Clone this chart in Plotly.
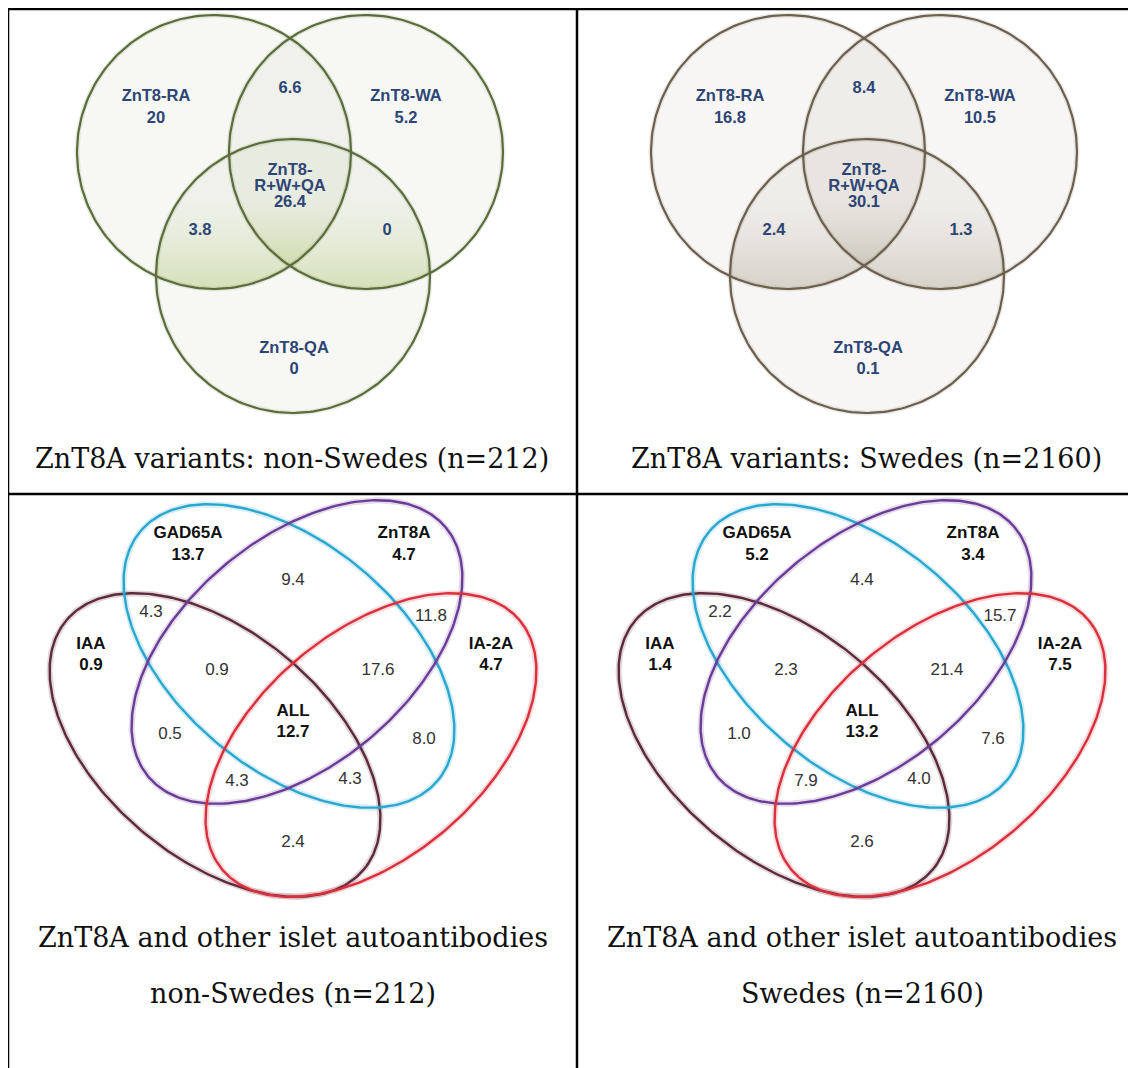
import numpy as np
import plotly.graph_objects as go

W, H = 1136, 1068
PAGE_MARGIN = 8  # default body margin of the html page

# ---------------- data ----------------
variant_sets = ["ZnT8-RA", "ZnT8-WA", "ZnT8-QA"]
variant_regions = ["RA", "RA+WA", "WA", "RA+WA+QA", "RA+QA", "WA+QA", "QA"]
variants_nonswedes = [20, 6.6, 5.2, 26.4, 3.8, 0, 0]
variants_swedes = [16.8, 8.4, 10.5, 30.1, 2.4, 1.3, 0.1]

islet_sets = ["IAA", "GAD65A", "ZnT8A", "IA-2A"]
islet_regions = ["IAA", "GAD65A", "ZnT8A", "IA-2A",
                 "IAA+GAD65A", "GAD65A+ZnT8A", "ZnT8A+IA-2A", "IAA+IA-2A",
                 "IAA+ZnT8A", "GAD65A+IA-2A",
                 "IAA+GAD65A+ZnT8A", "GAD65A+ZnT8A+IA-2A",
                 "IAA+ZnT8A+IA-2A", "IAA+GAD65A+IA-2A", "ALL"]
islet_nonswedes = [0.9, 13.7, 4.7, 4.7, 4.3, 9.4, 11.8, 2.4, 0.5, 8.0, 0.9, 17.6, 4.3, 4.3, 12.7]
islet_swedes = [1.4, 5.2, 3.4, 7.5, 2.2, 4.4, 15.7, 2.6, 1.0, 7.6, 2.3, 21.4, 7.9, 4.0, 13.2]

captions_top = ["ZnT8A variants: non-Swedes (n=212)", "ZnT8A variants: Swedes (n=2160)"]
captions_bottom_1 = ["ZnT8A and other islet autoantibodies", "ZnT8A and other islet autoantibodies"]
captions_bottom_2 = ["non-Swedes (n=212)", "Swedes (n=2160)"]

# ---------------- layout / style ----------------
TOP_CX = [290, 864]
BOT_CX = [293, 862]
R_CIRC = 137
circle_geom = {"RA": (-76, 152), "WA": (76, 152), "QA": (3, 276)}
top_stroke = ["#5b6c3a", "#6c5f4e"]
top_fill = ["rgba(170,182,130,0.09)", "rgba(165,155,135,0.09)"]
lens_dark = ["rgba(185,205,130,0.42)", "rgba(165,155,135,0.30)"]
lens_clear = ["rgba(210,222,175,0.0)", "rgba(200,192,178,0.0)"]
TOP_TXT = "#2d4575"

variant_pos = {  # dx, y of value ; name lines
    "RA": (-134, 119, ["ZnT8-RA"], [97]),
    "WA": (116, 119, ["ZnT8-WA"], [97]),
    "QA": (4, 370, ["ZnT8-QA"], [349]),
    "RA+WA": (0, 89, [], []),
    "RA+WA+QA": (0, 203, ["ZnT8-", "R+W+QA"], [171, 187]),
    "RA+QA": (-90, 231, [], []),
    "WA+QA": (97, 231, [], []),
}

ELL_A, ELL_B = 194, 113
ellipse_geom = {  # dx, cy, angle(deg), color
    "IAA": (-78, 745, 40, "#5c2a3a"),
    "GAD65A": (-4, 656, 40, "#2aa7cf"),
    "ZnT8A": (4, 652, -40, "#6a3c96"),
    "IA-2A": (78, 745, -40, "#d8303c"),
}
islet_pos = {
    "IAA": (-202, 666, 645), "GAD65A": (-105, 556, 534),
    "ZnT8A": (111, 556, 534), "IA-2A": (198, 666, 645),
    "IAA+GAD65A": (-142, 613, None), "GAD65A+ZnT8A": (0, 581, None),
    "ZnT8A+IA-2A": (138, 617, None), "IAA+IA-2A": (0, 843, None),
    "IAA+ZnT8A": (-123, 735, None), "GAD65A+IA-2A": (131, 740, None),
    "IAA+GAD65A+ZnT8A": (-76, 671, None), "GAD65A+ZnT8A+IA-2A": (85, 671, None),
    "IAA+ZnT8A+IA-2A": (-56, 782, None), "IAA+GAD65A+IA-2A": (57, 780, None),
    "ALL": (0, 733, 712),
}
CAPTION_FONT = dict(family="DejaVu Serif", size=27, color="#111111")

fig = go.Figure()


def circle_pts(cx, cy, r, n=240):
    t = np.linspace(0, 2 * np.pi, n)
    return cx + r * np.cos(t), cy + r * np.sin(t)


def lens_pts(c1, c2, r, n=120):
    (x1, y1), (x2, y2) = c1, c2
    d = np.hypot(x2 - x1, y2 - y1)
    al = np.arccos(d / (2 * r))
    th12 = np.arctan2(y2 - y1, x2 - x1)
    th21 = np.arctan2(y1 - y2, x1 - x2)
    t1 = np.linspace(th12 - al, th12 + al, n)
    t2 = np.linspace(th21 - al, th21 + al, n)
    xs = np.concatenate([x1 + r * np.cos(t1), x2 + r * np.cos(t2)])
    ys = np.concatenate([y1 + r * np.sin(t1), y2 + r * np.sin(t2)])
    return xs, ys


def ellipse_pts(cx, cy, a, b, ang, n=300):
    t = np.linspace(0, 2 * np.pi, n)
    p = np.deg2rad(ang)
    x = cx + a * np.cos(t) * np.cos(p) - b * np.sin(t) * np.sin(p)
    y = cy + a * np.cos(t) * np.sin(p) + b * np.sin(t) * np.cos(p)
    return x, y


# ---------- top panels: 3-circle Venns ----------
for k, (cx, vals) in enumerate(zip(TOP_CX, [variants_nonswedes, variants_swedes])):
    centers = {s: (cx + g[0], g[1]) for s, g in circle_geom.items()}
    for s in ["RA", "WA", "QA"]:
        x, y = circle_pts(*centers[s], R_CIRC)
        fig.add_trace(go.Scatter(x=x, y=y, mode="lines", fill="toself",
                                 fillcolor=top_fill[k], line=dict(width=0),
                                 hoverinfo="skip", showlegend=False))
    for s in ["RA", "WA"]:
        x, y = lens_pts(centers[s], centers["QA"], R_CIRC)
        bottom = centers[s][1] + R_CIRC
        fig.add_trace(go.Scatter(
            x=x, y=y, mode="lines", fill="toself", line=dict(width=0),
            fillgradient=dict(type="vertical", start=bottom - 90, stop=bottom - 8,
                              colorscale=[[0, lens_clear[k]], [1, lens_dark[k]]]),
            hoverinfo="skip", showlegend=False))
    for s in ["RA", "WA", "QA"]:
        x, y = circle_pts(*centers[s], R_CIRC)
        fig.add_trace(go.Scatter(x=x, y=y, mode="lines",
                                 line=dict(color=top_stroke[k], width=5), opacity=0.12,
                                 hoverinfo="skip", showlegend=False))
        fig.add_trace(go.Scatter(x=x, y=y, mode="lines",
                                 line=dict(color=top_stroke[k], width=2.2),
                                 hoverinfo="skip", showlegend=False))
    tx, ty, tt = [], [], []
    for reg, v in zip(variant_regions, vals):
        dx, vy, names, ny = variant_pos[reg]
        for nm, yy in zip(names, ny):
            tx.append(cx + dx); ty.append(yy); tt.append("<b>" + nm + "</b>")
        tx.append(cx + dx); ty.append(vy); tt.append("<b>" + f"{v:g}" + "</b>")
    fig.add_trace(go.Scatter(x=tx, y=ty, text=tt, mode="text",
                             textfont=dict(family="Liberation Sans, Arial", size=16.5, color=TOP_TXT),
                             textposition="middle center", hoverinfo="skip", showlegend=False))
    fig.add_annotation(x=cx + 2, y=458, text=captions_top[k], showarrow=False,
                       font=CAPTION_FONT, xanchor="center", yanchor="middle")

# ---------- bottom panels: 4-ellipse Venns ----------
for k, (cx, vals) in enumerate(zip(BOT_CX, [islet_nonswedes, islet_swedes])):
    for s in islet_sets:
        dx, cy, ang, col = ellipse_geom[s]
        x, y = ellipse_pts(cx + dx, cy, ELL_A, ELL_B, ang)
        fig.add_trace(go.Scatter(x=x, y=y, mode="lines",
                                 line=dict(color=col, width=6), opacity=0.18,
                                 hoverinfo="skip", showlegend=False))
        fig.add_trace(go.Scatter(x=x, y=y, mode="lines",
                                 line=dict(color=col, width=2.4),
                                 hoverinfo="skip", showlegend=False))
    nx, ny, nt = [], [], []
    vx, vy, vt = [], [], []
    for reg, v in zip(islet_regions, vals):
        dx, yv, yn = islet_pos[reg]
        if yn is not None:
            nx.append(cx + dx); ny.append(yn); nt.append("<b>" + reg + "</b>")
            nx.append(cx + dx); ny.append(yv); nt.append("<b>" + f"{v:.1f}" + "</b>")
        else:
            vx.append(cx + dx); vy.append(yv); vt.append(f"{v:.1f}")
    fig.add_trace(go.Scatter(x=nx, y=ny, text=nt, mode="text",
                             textfont=dict(family="Liberation Sans, Arial", size=17, color="#111111"),
                             textposition="middle center", hoverinfo="skip", showlegend=False))
    fig.add_trace(go.Scatter(x=vx, y=vy, text=vt, mode="text",
                             textfont=dict(family="Liberation Sans, Arial", size=17, color="#333333"),
                             textposition="middle center", hoverinfo="skip", showlegend=False))
    fig.add_annotation(x=cx, y=937, text=captions_bottom_1[k], showarrow=False,
                       font=CAPTION_FONT, xanchor="center", yanchor="middle")
    fig.add_annotation(x=cx, y=993, text=captions_bottom_2[k], showarrow=False,
                       font=CAPTION_FONT, xanchor="center", yanchor="middle")

# ---------- table grid ----------
grid = dict(color="black", width=2.5)
fig.add_shape(type="line", x0=8, x1=8, y0=9, y1=H, line=grid)
fig.add_shape(type="line", x0=8, x1=W, y0=9, y1=9, line=grid)
fig.add_shape(type="line", x0=577, x1=577, y0=9, y1=H, line=grid)
fig.add_shape(type="line", x0=8, x1=W, y0=494, y1=494, line=grid)

# the page places the figure at (8, 8); the axes map data units to page pixels
fig.update_layout(
    width=W - PAGE_MARGIN, height=H - PAGE_MARGIN, margin=dict(l=0, r=0, t=0, b=0),
    paper_bgcolor="white", plot_bgcolor="white", showlegend=False,
    xaxis=dict(range=[PAGE_MARGIN, W], visible=False, fixedrange=True),
    yaxis=dict(range=[H, PAGE_MARGIN], visible=False, fixedrange=True),
)
fig.write_html("out.html")
